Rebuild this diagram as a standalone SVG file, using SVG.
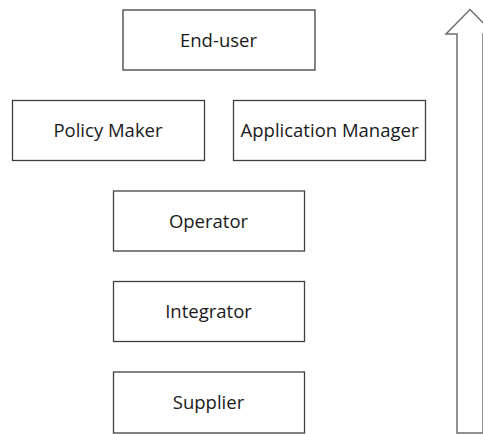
<svg xmlns="http://www.w3.org/2000/svg" width="483" height="434" viewBox="0 0 483 434">
<style>
.box{fill:#fff;stroke:#3f3f3f;stroke-width:1.3}
.lbl{font-family:"Open Sans","Noto Sans",sans-serif;font-size:18.5px;fill:#1a1a1a;text-anchor:middle;dominant-baseline:central}
.arrow{fill:#fff;stroke:#6e6e6e;stroke-width:1.5}
</style>
<rect width="483" height="434" fill="#fff"/>
<g id="connectors">
<path class="arrow" d="M457,433 L457,34 L446,34 L470,9.5 L494,34 L483,34 L483,433 Z"/>
</g>
<g id="end-user"><rect class="box" x="123" y="10" width="192" height="60"/><text class="lbl" x="218.5" y="39">End-user</text></g>
<g id="policy-maker"><rect class="box" x="12.5" y="100.5" width="192" height="60"/><text class="lbl" x="108" y="129.5">Policy Maker</text></g>
<g id="application-manager"><rect class="box" x="233.5" y="100.5" width="192" height="60"/><text class="lbl" x="329.5" y="129.5">Application Manager</text></g>
<g id="operator"><rect class="box" x="113.5" y="191" width="191" height="60"/><text class="lbl" x="208.5" y="220">Operator</text></g>
<g id="integrator"><rect class="box" x="113.5" y="281.5" width="191" height="60"/><text class="lbl" x="208.5" y="310.5">Integrator</text></g>
<g id="supplier"><rect class="box" x="113.5" y="372" width="191" height="61"/><text class="lbl" x="208.5" y="401.5">Supplier</text></g>
</svg>
